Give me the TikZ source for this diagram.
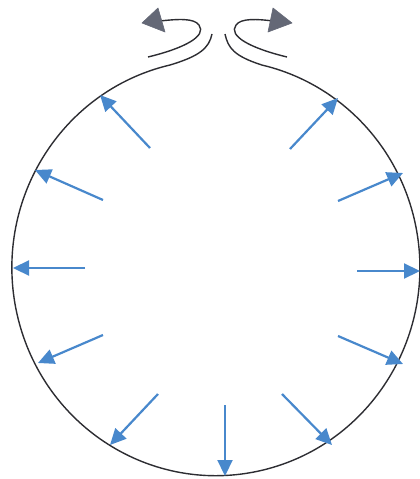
\documentclass[tikz,border=0pt]{standalone}
\usetikzlibrary{arrows.meta}
\definecolor{arrowblue}{RGB}{72,136,204}
\definecolor{outlinegray}{RGB}{45,45,50}
\definecolor{flowgray}{RGB}{100,104,118}
\tikzset{
  outline/.style={draw=outlinegray,line width=1.4pt},
  pressure/.style={draw=arrowblue,line width=2.2pt,-{Triangle[length=16pt,width=15pt,fill=arrowblue]}},
  escape/.style={draw=outlinegray,line width=1.4pt},
  escapehead/.style={fill=flowgray,draw=flowgray,line width=0.6pt,line join=round}
}
\begin{document}
\begin{tikzpicture}[x=1pt,y=-1pt]
\useasboundingbox (0,0) rectangle (420,479);
% balloon outline with neck
\draw[outline] (212,34) .. controls (209,48) and (200,56) .. (170,65)
  arc[start angle=103,end angle=437,x radius=204,y radius=-208]
  .. controls (234,56) and (228,48) .. (225,34);
% escaping air
\draw[escape] (148,57) .. controls (185,48) and (207,36) .. (199,25)
  .. controls (194,18) and (178,19) .. (160,21);
\filldraw[escapehead] (142,23) -- (158,8) -- (165,32) -- cycle;
\draw[escape] (287,57) .. controls (250,48) and (228,36) .. (236,25)
  .. controls (241,18) and (257,19) .. (273,21);
\filldraw[escapehead] (292,23) -- (273,8) -- (268,32) -- cycle;
% pressure arrows
\coordinate (t1) at (150,148); \coordinate (h1) at (100,95);
\coordinate (t2) at (103,200); \coordinate (h2) at (35,170);
\coordinate (t3) at (85,268);  \coordinate (h3) at (13,268);
\coordinate (t4) at (103,335); \coordinate (h4) at (38,363);
\coordinate (t5) at (158,394); \coordinate (h5) at (110,445);
\coordinate (t6) at (225,405); \coordinate (h6) at (225,476);
\coordinate (t7) at (282,394); \coordinate (h7) at (332,445);
\coordinate (t8) at (338,336); \coordinate (h8) at (403,364);
\coordinate (t9) at (357,271); \coordinate (h9) at (420,271);
\coordinate (t10) at (338,201); \coordinate (h10) at (403,173);
\coordinate (t11) at (290,149); \coordinate (h11) at (338,98);
\foreach \i in {1,...,11} \draw[pressure] (t\i) -- (h\i);
\end{tikzpicture}
\end{document}
